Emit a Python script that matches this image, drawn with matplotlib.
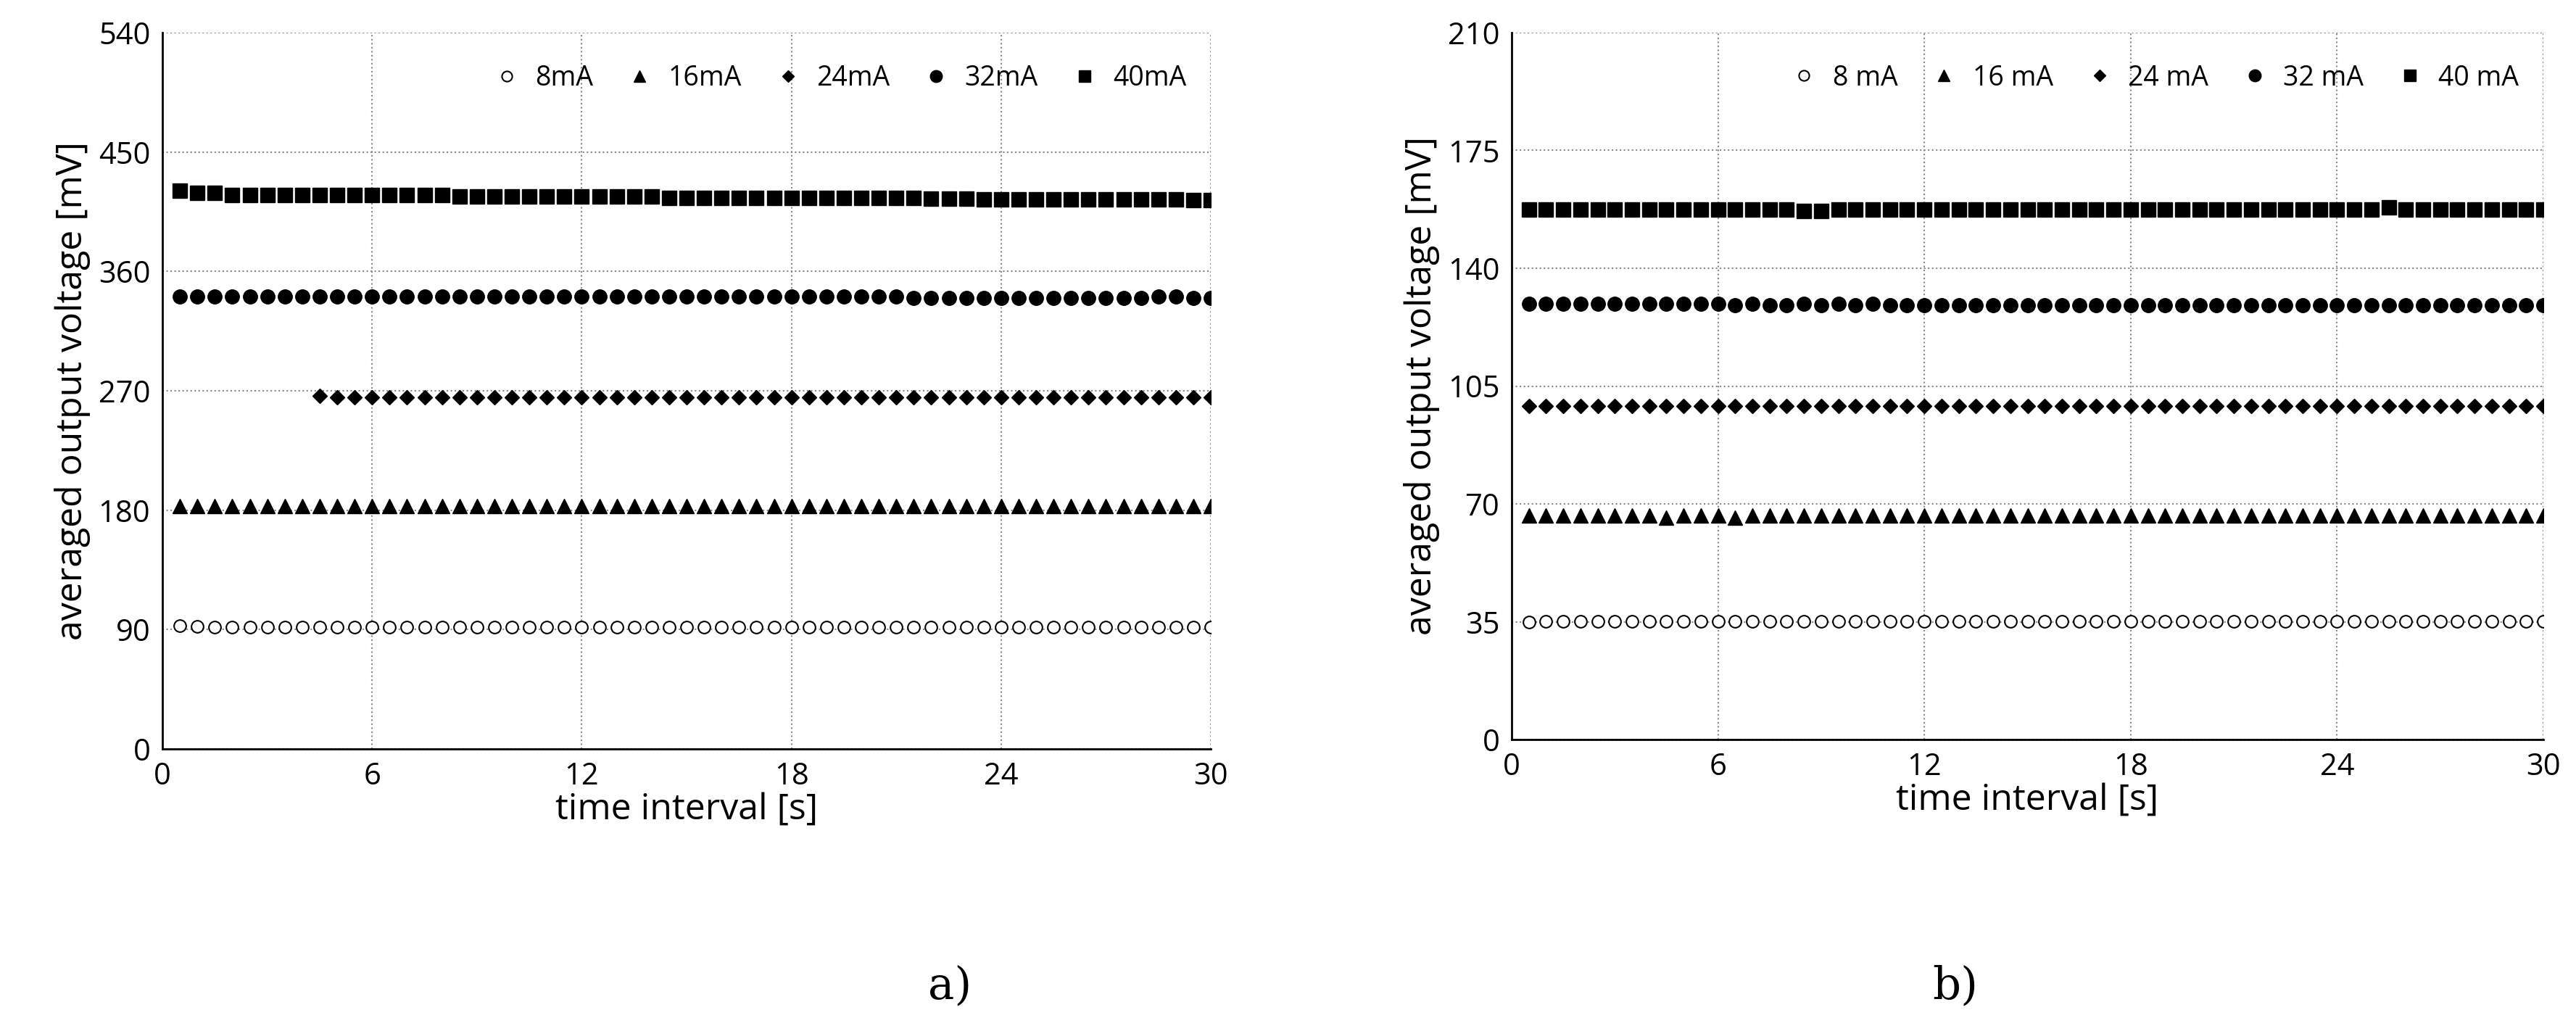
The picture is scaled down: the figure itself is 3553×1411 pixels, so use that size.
import matplotlib
matplotlib.use("Agg")
import matplotlib.pyplot as plt
import numpy as np

t = [0.5*i for i in range(1, 61)]

# panel a
a_8 = [93,92.5,92,92,92,92,92,92,92,92,92,92,92,92,92,92,92,92,92,92,92,92,92,92,92,92,92,92,92,92,
       92,92,92,92,92,92,92,92,92,92,92,92,92,92,92,92,92,92,92,92,92,92,92,92,92,92,92,92,92,92]
a_16 = [183,183,183,183,183,183,183,183,183,183,183,183,183,183,183,183,183,183,183,183,
        183,183,183,183,183,183,183,183,183,183,183,183,183,183,183,183,183,183,183,183,
        183,183,183,183,183,183,183,183,183,183,183,183,183,183,183,183,183,183,183,183]
t_24 = t[8:]
a_24 = [266,265,265,265,265,265,265,265,265,265,265,265,265,265,265,265,265,265,265,265,265,265,265,265,265,265,
        265,265,265,265,265,265,265,265,265,265,265,265,265,265,265,265,265,265,265,265,265,265,265,265,265,265]
a_32 = [341,341,341,341,341,341,341,341,341,341,341,341,341,341,341,341,341,341,341,341,
        341,341,341,341,341,341,341,341,341,341,341,341,341,341,341,341,341,341,341,341,
        341,341,340,340,340,340,340,340,340,340,340,340,340,340,340,340,341,341,340,340]
a_40 = [421,419,419,417.5,417.5,417.5,417.5,417.5,417.5,417.5,417.5,417.5,417.5,417.5,417.5,417.5,
        416.5,416.5,416.5,416.5,416.5,416.5,416.5,416.5,416.5,416.5,416.5,416.5,
        415.5,415.5,415.5,415.5,415.5,415.5,415.5,415.5,415.5,415.5,415.5,415.5,415.5,415.5,415.5,
        415,415,415,414.5,414.5,414.5,414.5,414.5,414.5,414.5,414.5,414.5,414.5,414.5,414.5,414,414]

# panel b
b_8 = [35,35.2,35.2,35.2,35.2,35.2,35.2,35.2,35.2,35.2,35.2,35.2,35.2,35.2,35.2,35.2,35.2,35.2,35.2,35.2,
       35.2,35.2,35.2,35.2,35.2,35.2,35.2,35.2,35.2,35.2,35.2,35.2,35.2,35.2,35.2,35.2,35.2,35.2,35.2,35.2,
       35.2,35.2,35.2,35.2,35.2,35.2,35.2,35.2,35.2,35.2,35.2,35.2,35.2,35.2,35.2,35.2,35.2,35.2,35.2,35.2]
b_16 = [66.5,66.5,66.5,66.5,66.5,66.5,66.5,66.5,66,66.5,66.5,66.5,66,66.5,66.5,66.5,66.5,66.5,66.5,66.5,
        66.5,66.5,66.5,66.5,66.5,66.5,66.5,66.5,66.5,66.5,66.5,66.5,66.5,66.5,66.5,66.5,66.5,66.5,66.5,66.5,
        66.5,66.5,66.5,66.5,66.5,66.5,66.5,66.5,66.5,66.5,66.5,66.5,66.5,66.5,66.5,66.5,66.5,66.5,66.5,66.5]
b_24 = [99,99,99,99,99,99,99,99,99,99,99,99,99,99,99,99,99,99,99,99,
        99,99,99,99,99,99,99,99,99,99,99,99,99,99,99,99,99,99,99,99,
        99,99,99,99,99,99,99,99,99,99,99,99,99,99,99,99,99,99,99,99]
b_32 = [129.5,129.5,129.5,129.5,129.5,129.5,129.5,129.5,129.5,129.5,129.5,129.5,129,129.5,129,129,129.5,129,129.5,129,
        129.5,129,129,129,129,129,129,129,129,129,129,129,129,129,129,129,129,129,129,129,
        129,129,129,129,129,129,129,129,129,129,129,129,129,129,129,129,129,129,129,129]
b_40 = [157.5,157.5,157.5,157.5,157.5,157.5,157.5,157.5,157.5,157.5,157.5,157.5,157.5,157.5,157.5,157.5,157,157,157.5,157.5,
        157.5,157.5,157.5,157.5,157.5,157.5,157.5,157.5,157.5,157.5,157.5,157.5,157.5,157.5,157.5,157.5,157.5,157.5,157.5,157.5,
        157.5,157.5,157.5,157.5,157.5,157.5,157.5,157.5,157.5,157.5,158,157.5,157.5,157.5,157.5,157.5,157.5,157.5,157.5,157.5]

plt.rcParams['font.family'] = ['Open Sans', 'DejaVu Sans']
W, H = 3553, 1411
fig = plt.figure(figsize=(W/100, H/100), dpi=100)

def panel(rect, series, labels, ymax, yticks, letter, lx):
    ax = fig.add_axes(rect)
    styles = [dict(marker='o', mfc='white', mec='black', ms=12, mew=1.5),
              dict(marker='^', color='black', ms=14),
              dict(marker='D', color='black', ms=10),
              dict(marker='o', color='black', ms=14),
              dict(marker='s', color='black', ms=14)]
    for (x, y), lab, st in zip(series, labels, styles):
        ax.plot(x, y, linestyle='none', label=lab, **st)
    ax.set_xlim(0, 30); ax.set_ylim(0, ymax)
    ax.set_xticks([0, 6, 12, 18, 24, 30]); ax.set_yticks(yticks)
    ax.grid(True, linestyle=':', color='#888888', linewidth=1.5)
    for s in ['top', 'right']:
        ax.spines[s].set_visible(False)
    ax.spines['left'].set_linewidth(2); ax.spines['bottom'].set_linewidth(2)
    ax.tick_params(labelsize=30, length=0, pad=12)
    ax.set_xlabel('time interval [s]', fontsize=36, labelpad=0)
    ax.set_ylabel('averaged output voltage [mV]', fontsize=36, labelpad=8)
    ax.legend(loc='upper right', ncol=5, frameon=False, fontsize=27, handletextpad=0.05,
              columnspacing=0.7, markerscale=0.85, bbox_to_anchor=(1.0, 0.99))
    fig.text(lx, 1-1360/H, letter, fontsize=44, ha='center', va='center', family='DejaVu Serif')
    return ax

panel([224/W, 1-1033/H, (1670-224)/W, (1033-45)/H],
      [(t, a_8), (t, a_16), (t_24, a_24), (t, a_32), (t, a_40)],
      ['8mA', '16mA', '24mA', '32mA', '40mA'], 540, list(range(0, 541, 90)), 'a)', 1310/W)
panel([2085/W, 1-1020/H, (3508-2085)/W, (1020-45)/H],
      [(t, b_8), (t, b_16), (t, b_24), (t, b_32), (t, b_40)],
      ['8 mA', '16 mA', '24 mA', '32 mA', '40 mA'], 210, list(range(0, 211, 35)), 'b)', 2697/W)

fig.savefig('out.png', dpi=100)
